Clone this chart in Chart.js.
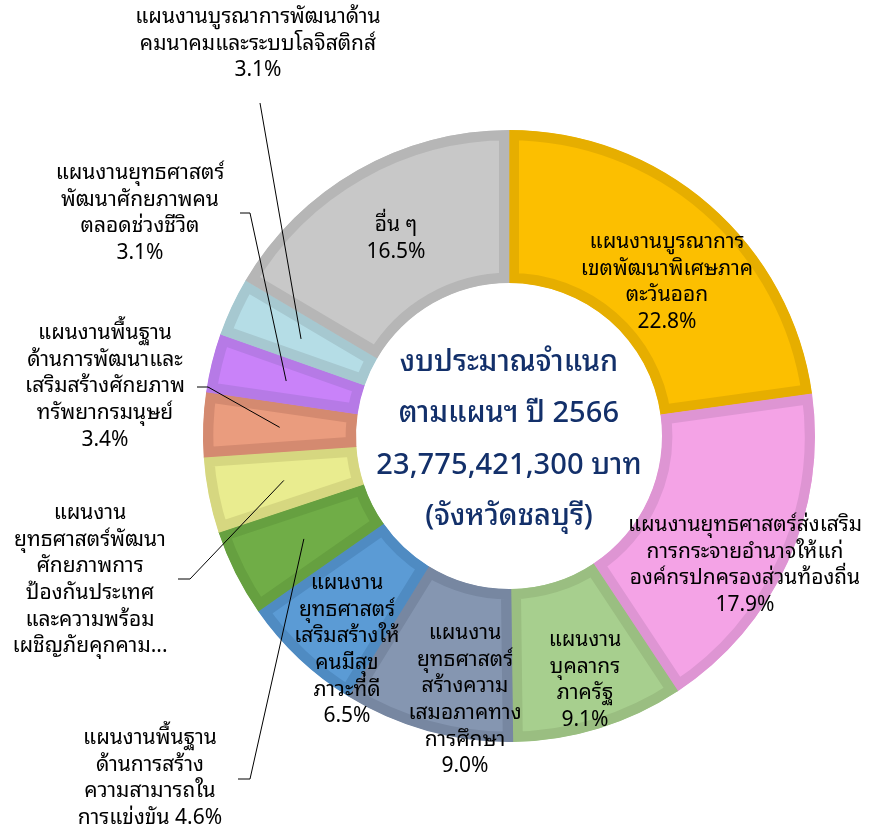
<!DOCTYPE html>
<html>
<head>
<meta charset="utf-8">
<script src="https://cdn.jsdelivr.net/npm/chart.js@4.4.0/dist/chart.umd.min.js"></script>
<style>
  html, body { margin: 0; padding: 0; background: #fff; }
  #wrap { width: 869px; height: 831px; position: relative; }
</style>
</head>
<body>
<div id="wrap"><canvas id="budgetChart"></canvas></div>
<script>
// Data
const categories = [
    'แผนงานบูรณาการเขตพัฒนาพิเศษภาคตะวันออก',
    'แผนงานยุทธศาสตร์ส่งเสริมการกระจายอำนาจให้แก่องค์กรปกครองส่วนท้องถิ่น',
    'แผนงานบุคลากรภาครัฐ',
    'แผนงานยุทธศาสตร์สร้างความเสมอภาคทางการศึกษา',
    'แผนงานยุทธศาสตร์เสริมสร้างให้คนมีสุขภาวะที่ดี',
    'แผนงานพื้นฐานด้านการสร้างความสามารถในการแข่งขัน',
    'แผนงานยุทธศาสตร์พัฒนาศักยภาพการป้องกันประเทศและความพร้อมเผชิญภัยคุกคาม...',
    'แผนงานพื้นฐานด้านการพัฒนาและเสริมสร้างศักยภาพทรัพยากรมนุษย์',
    'แผนงานยุทธศาสตร์พัฒนาศักยภาพคนตลอดช่วงชีวิต',
    'แผนงานบูรณาการพัฒนาด้านคมนาคมและระบบโลจิสติกส์',
    'อื่น ๆ'
];
const shares = [22.8, 17.9, 9.1, 9.0, 6.5, 4.6, 4.0, 3.4, 3.1, 3.1, 16.5];

// wrapped label text, {v} = percentage
const labelLines = [
    ['แผนงานบูรณาการ', 'เขตพัฒนาพิเศษภาค', 'ตะวันออก', '{v}'],
    ['แผนงานยุทธศาสตร์ส่งเสริม', 'การกระจายอำนาจให้แก่', 'องค์กรปกครองส่วนท้องถิ่น', '{v}'],
    ['แผนงาน', 'บุคลากร', 'ภาครัฐ', '{v}'],
    ['แผนงาน', 'ยุทธศาสตร์', 'สร้างความ', 'เสมอภาคทาง', 'การศึกษา', '{v}'],
    ['แผนงาน', 'ยุทธศาสตร์', 'เสริมสร้างให้', 'คนมีสุข', 'ภาวะที่ดี', '{v}'],
    ['แผนงานพื้นฐาน', 'ด้านการสร้าง', 'ความสามารถใน', 'การแข่งขัน {v}'],
    ['แผนงาน', 'ยุทธศาสตร์พัฒนา', 'ศักยภาพการ', 'ป้องกันประเทศ', 'และความพร้อม', 'เผชิญภัยคุกคาม...'],
    ['แผนงานพื้นฐาน', 'ด้านการพัฒนาและ', 'เสริมสร้างศักยภาพ', 'ทรัพยากรมนุษย์', '{v}'],
    ['แผนงานยุทธศาสตร์', 'พัฒนาศักยภาพคน', 'ตลอดช่วงชีวิต', '{v}'],
    ['แผนงานบูรณาการพัฒนาด้าน', 'คมนาคมและระบบโลจิสติกส์', '{v}'],
    ['อื่น ๆ', '{v}']
];
const centerLines = ['งบประมาณจำแนก', 'ตามแผนฯ ปี 2566', '23,775,421,300 บาท', '(จังหวัดชลบุรี)'];

const fillColors = ['#FCBF00', '#F4A3E6', '#A7CF8E', '#8596B1', '#5B9BD5', '#70AD47',
                    '#E9EC8F', '#EA9C7E', '#C982F9', '#B5DDE6', '#C8C8C8'];
const edgeColors = ['#E6AE00', '#DE95D3', '#9ABE81', '#7787A1', '#4F8BC2', '#66A040',
                    '#D6D780', '#D48A70', '#B67AE6', '#A6C8D0', '#B6B6B6'];

// label placement (text layout only)
const labelPos = [
    { x: 667, y: 242 },
    { x: 745, y: 525 },
    { x: 585, y: 640 },
    { x: 465, y: 633 },
    { x: 347, y: 583 },
    { x: 150, y: 738, leader: [[250, 779], [238, 779]] },
    { x: 90, y: 513, leader: [[190, 579], [178, 579]] },
    { x: 105, y: 333, leader: [[208, 387], [197, 387]] },
    { x: 140, y: 173, leader: [[250, 213], [240, 213]] },
    { x: 258, y: 17, leader: [[260, 103]] },
    { x: 396, y: 225 }
];

const FONT = '"Noto Sans Thai Looped", Tahoma, Loma, Garuda, "Noto Sans Thai", "Noto Sans", sans-serif';
const LINE_H = 26.7;

const labelPlugin = {
    id: 'sliceLabels',
    afterDatasetsDraw(chart) {
        const ctx = chart.ctx;
        const arcs = chart.getDatasetMeta(0).data;
        ctx.save();
        // leader lines
        ctx.strokeStyle = '#000';
        ctx.lineWidth = 1;
        arcs.forEach((arc, i) => {
            const pos = labelPos[i];
            if (!pos.leader) return;
            const p = arc.tooltipPosition();
            ctx.beginPath();
            ctx.moveTo(p.x, p.y);
            pos.leader.forEach(pt => ctx.lineTo(pt[0], pt[1]));
            ctx.stroke();
        });
        // labels
        ctx.fillStyle = '#000';
        ctx.font = '21px ' + FONT;
        ctx.textAlign = 'center';
        ctx.textBaseline = 'middle';
        labelLines.forEach((lines, i) => {
            const pos = labelPos[i];
            const v = shares[i].toFixed(1) + '%';
            lines.forEach((ln, k) => {
                ctx.fillText(ln.replace('{v}', v), pos.x, pos.y + k * LINE_H);
            });
        });
        // center text
        const c = arcs[0];
        ctx.fillStyle = '#13306A';
        ctx.font = '500 29px ' + FONT;
        centerLines.forEach((ln, k) => {
            ctx.fillText(ln, c.x, 363 + k * 51.3);
        });
        ctx.restore();
    }
};

const ctx = document.getElementById('budgetChart').getContext('2d');
new Chart(ctx, {
    type: 'doughnut',
    data: {
        labels: categories,
        datasets: [{
            data: shares,
            backgroundColor: fillColors,
            borderColor: edgeColors,
            borderWidth: 10,
            borderAlign: 'inner',
            borderJoinStyle: 'miter'
        }]
    },
    options: {
        responsive: true,
        maintainAspectRatio: false,
        animation: false,
        radius: 306,
        cutout: '50%',
        layout: { padding: { left: 149, right: 0, top: 41, bottom: 0 } },
        plugins: {
            legend: { display: false },
            tooltip: { enabled: false }
        }
    },
    plugins: [labelPlugin]
});
</script>
</body>
</html>
